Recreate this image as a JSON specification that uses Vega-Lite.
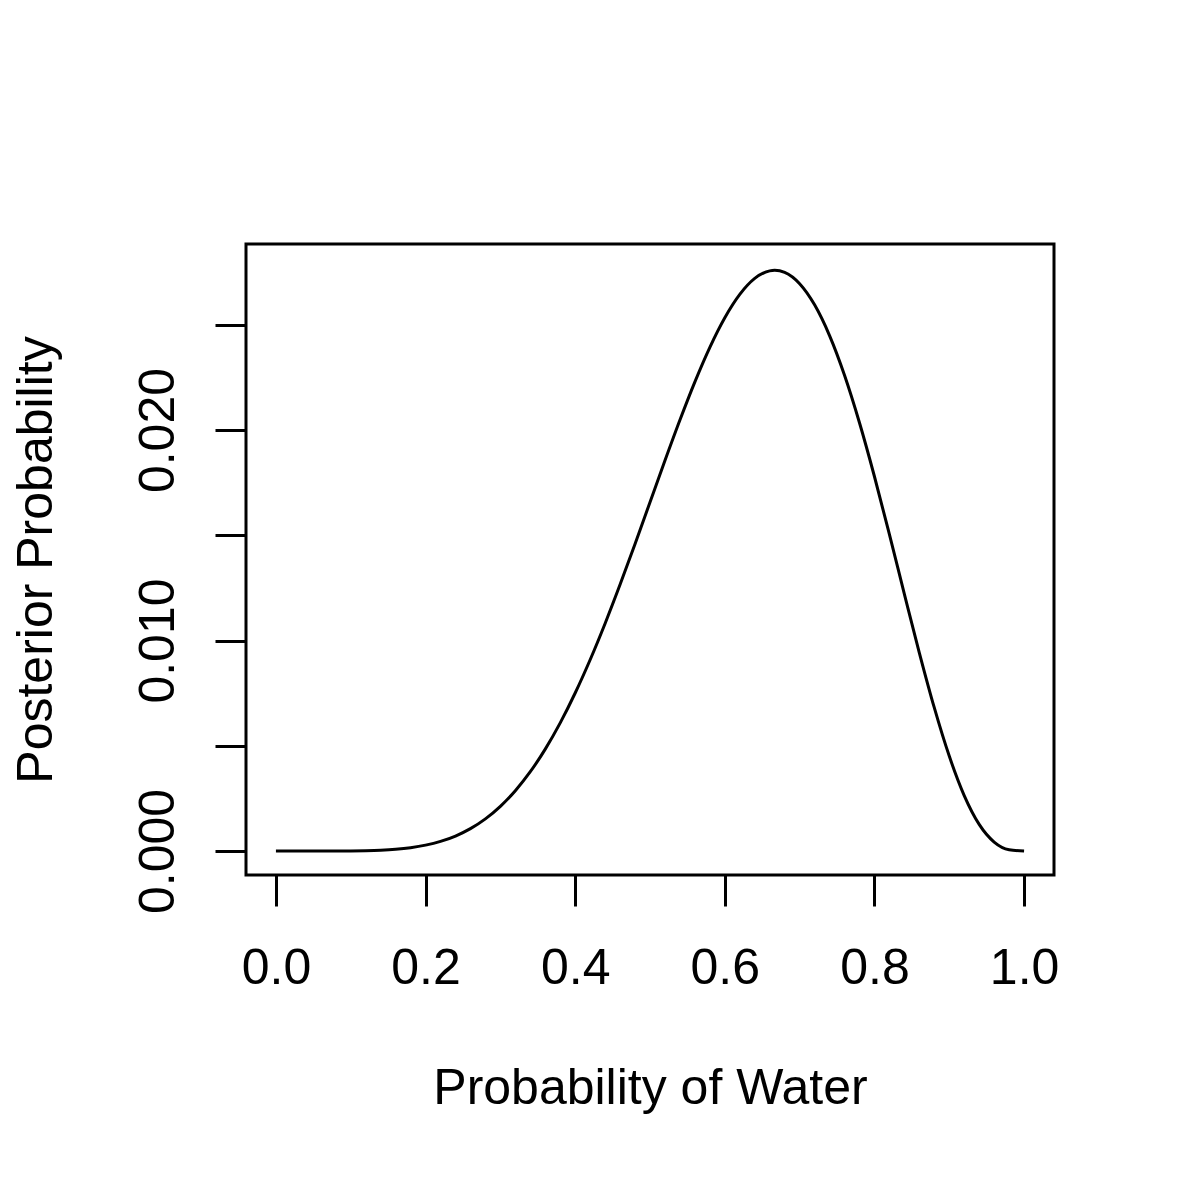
{
  "$schema": "https://vega.github.io/schema/vega-lite/v6.json",
  "width": 808,
  "height": 631,
  "autosize": "none",
  "padding": {"left": 246, "top": 244, "right": 127, "bottom": 306},
  "background": "white",
  "config": {
    "view": {"stroke": "black", "strokeWidth": 3},
    "font": "Liberation Sans"
  },
  "data": {
    "values": [
      {"p": 0.00, "posterior": 0},
      {"p": 0.02, "posterior": 0.0000000005},
      {"p": 0.04, "posterior": 0.000000031},
      {"p": 0.06, "posterior": 0.000000329},
      {"p": 0.08, "posterior": 0.00000173},
      {"p": 0.10, "posterior": 0.00000619},
      {"p": 0.12, "posterior": 0.00001727},
      {"p": 0.14, "posterior": 0.00004063},
      {"p": 0.16, "posterior": 0.00008437},
      {"p": 0.18, "posterior": 0.0001591},
      {"p": 0.20, "posterior": 0.0002780},
      {"p": 0.22, "posterior": 0.0004565},
      {"p": 0.24, "posterior": 0.0007118},
      {"p": 0.26, "posterior": 0.0010621},
      {"p": 0.28, "posterior": 0.0015261},
      {"p": 0.30, "posterior": 0.0021216},
      {"p": 0.32, "posterior": 0.0028646},
      {"p": 0.34, "posterior": 0.0037665},
      {"p": 0.36, "posterior": 0.0048416},
      {"p": 0.38, "posterior": 0.0060880},
      {"p": 0.40, "posterior": 0.0075068},
      {"p": 0.42, "posterior": 0.0090870},
      {"p": 0.44, "posterior": 0.0108119},
      {"p": 0.46, "posterior": 0.0126577},
      {"p": 0.48, "posterior": 0.0145914},
      {"p": 0.50, "posterior": 0.0165718},
      {"p": 0.52, "posterior": 0.0185517},
      {"p": 0.54, "posterior": 0.0204757},
      {"p": 0.56, "posterior": 0.0222910},
      {"p": 0.58, "posterior": 0.0239307},
      {"p": 0.60, "posterior": 0.0253354},
      {"p": 0.62, "posterior": 0.0264449},
      {"p": 0.64, "posterior": 0.0272037},
      {"p": 0.66, "posterior": 0.0275639},
      {"p": 0.6667, "posterior": 0.0275890},
      {"p": 0.68, "posterior": 0.0274885},
      {"p": 0.70, "posterior": 0.0269521},
      {"p": 0.72, "posterior": 0.0259484},
      {"p": 0.74, "posterior": 0.0244878},
      {"p": 0.76, "posterior": 0.0226025},
      {"p": 0.78, "posterior": 0.0203460},
      {"p": 0.80, "posterior": 0.0177938},
      {"p": 0.82, "posterior": 0.0150433},
      {"p": 0.84, "posterior": 0.0122090},
      {"p": 0.86, "posterior": 0.0094193},
      {"p": 0.88, "posterior": 0.0068090},
      {"p": 0.90, "posterior": 0.0045092},
      {"p": 0.92, "posterior": 0.0026341},
      {"p": 0.94, "posterior": 0.0012643},
      {"p": 0.96, "posterior": 0.0004251},
      {"p": 0.98, "posterior": 0.00006013},
      {"p": 1.00, "posterior": 0}
    ]
  },
  "mark": {"type": "line", "color": "black", "strokeWidth": 3, "interpolate": "monotone"},
  "encoding": {
    "x": {
      "field": "p",
      "type": "quantitative",
      "scale": {"domain": [-0.04, 1.04], "nice": false, "zero": false},
      "axis": {
        "title": "Probability of Water",
        "values": [0, 0.2, 0.4, 0.6, 0.8, 1.0],
        "format": ".1f",
        "domain": false,
        "grid": false,
        "ticks": true,
        "tickSize": 31,
        "tickWidth": 3,
        "tickColor": "black",
        "labelFont": "Liberation Sans",
        "labelFontSize": 50,
        "labelColor": "black",
        "labelPadding": 37,
        "labelBaseline": "top",
        "labelFlush": false,
        "labelOverlap": false,
        "titleFont": "Liberation Sans",
        "titleFontSize": 50,
        "titleFontWeight": "normal",
        "titleColor": "black",
        "titlePadding": 70
      }
    },
    "y": {
      "field": "posterior",
      "type": "quantitative",
      "scale": {"domain": [-0.00114, 0.02884], "nice": false, "zero": false},
      "axis": {
        "title": "Posterior Probability",
        "values": [0, 0.005, 0.01, 0.015, 0.02, 0.025],
        "labelExpr": "round(datum.value * 1000) % 10 == 0 ? format(datum.value, '.3f') : ''",
        "domain": false,
        "grid": false,
        "ticks": true,
        "tickSize": 31,
        "tickWidth": 3,
        "tickColor": "black",
        "labelFont": "Liberation Sans",
        "labelFontSize": 50,
        "labelColor": "black",
        "labelAngle": 270,
        "labelAlign": "center",
        "labelBaseline": "alphabetic",
        "labelPadding": 42,
        "labelFlush": false,
        "labelOverlap": false,
        "titleFont": "Liberation Sans",
        "titleFontSize": 50,
        "titleFontWeight": "normal",
        "titleColor": "black",
        "titlePadding": 72
      }
    }
  }
}
